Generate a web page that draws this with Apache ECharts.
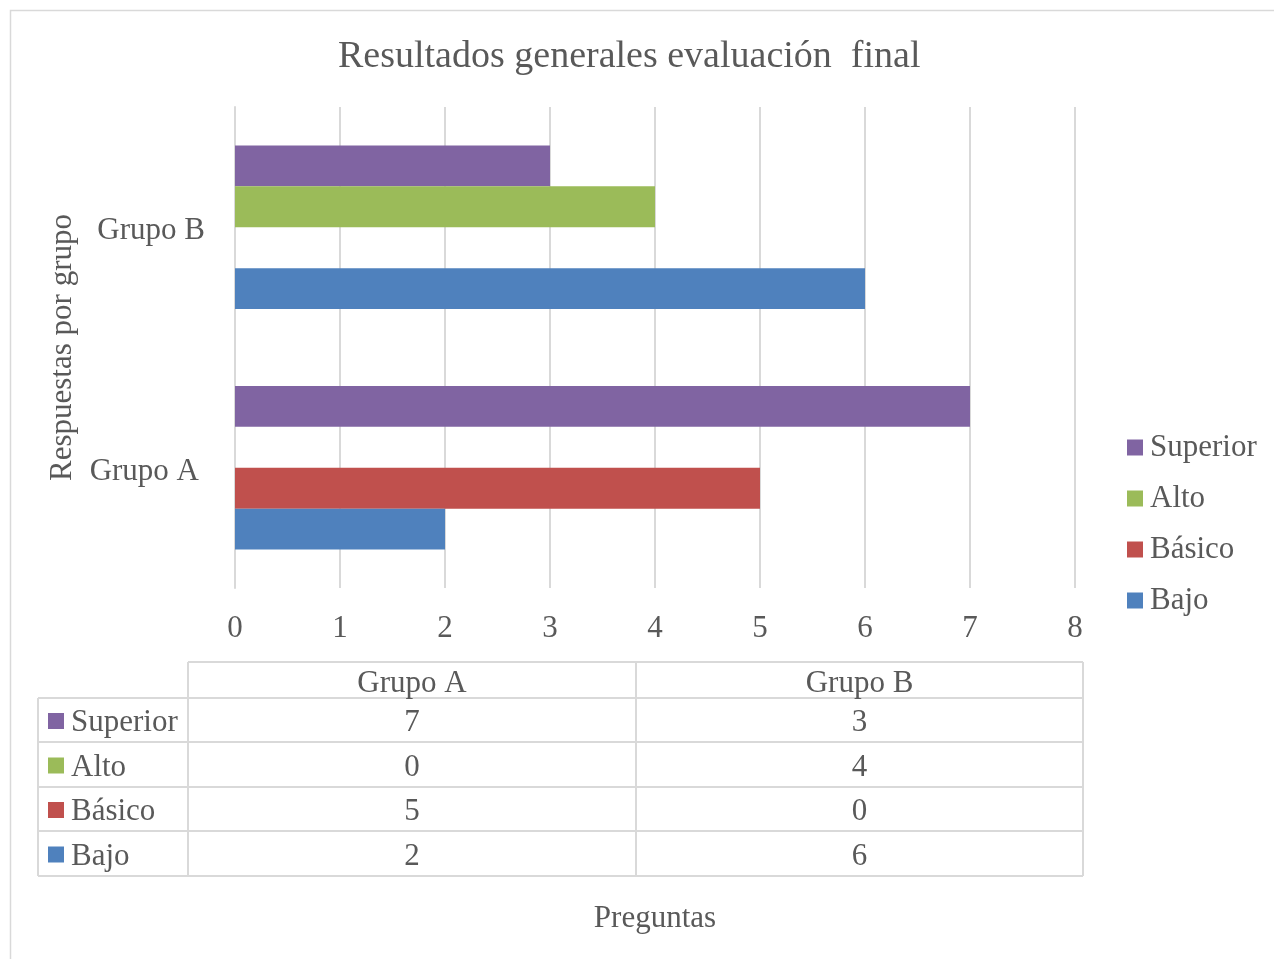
<!DOCTYPE html>
<html>
<head>
<meta charset="utf-8">
<script src="https://cdn.jsdelivr.net/npm/echarts@6/dist/echarts.min.js"></script>
<style>
  html, body { margin: 0; padding: 0; background: #fff; }
  #chart { width: 1274px; height: 959px; }
</style>
</head>
<body>
<div id="chart"></div>
<script>
// Groups on the category axis (bottom to top)
const groups = ['Grupo A', 'Grupo B'];
// Performance levels, listed top to bottom within each group
const levels = ['Superior', 'Alto', 'Básico', 'Bajo'];
// Values per level, one entry per group
const superior = [7, 3];
const alto = [0, 4];
const basico = [5, 0];
const bajo = [2, 6];
// Value axis ticks
const xTicks = [0, 1, 2, 3, 4, 5, 6, 7, 8];

const colors = {
  'Superior': '#8064A2',
  'Alto': '#9BBB59',
  'Básico': '#C0504D',
  'Bajo': '#4F81BD'
};
const valuesByLevel = { 'Superior': superior, 'Alto': alto, 'Básico': basico, 'Bajo': bajo };

const FONT = '"Liberation Serif", "Times New Roman", serif';
const TXT = '#595959';
const LINE = '#D9D9D9';

const chart = echarts.init(document.getElementById('chart'));

const series = levels.map(name => ({
  name,
  type: 'bar',
  data: valuesByLevel[name],
  itemStyle: { color: colors[name] },
  barGap: '0%',
  barCategoryGap: '32%',
  emphasis: { disabled: true }
}));

// Data table below the plot
function buildTable() {
  const els = [];
  const colX = [38, 188, 636, 1083];   // column edges
  const rowY = [662, 698, 742, 787, 831, 876]; // row edges
  const ls = { stroke: LINE, lineWidth: 2 };
  // header row (no leftmost cell)
  els.push({ type: 'line', shape: { x1: colX[1], y1: rowY[0], x2: colX[3], y2: rowY[0] }, style: ls, silent: true });
  for (let r = 1; r < rowY.length; r++) {
    els.push({ type: 'line', shape: { x1: colX[0], y1: rowY[r], x2: colX[3], y2: rowY[r] }, style: ls, silent: true });
  }
  els.push({ type: 'line', shape: { x1: colX[0], y1: rowY[1], x2: colX[0], y2: rowY[5] }, style: ls, silent: true });
  for (let c = 1; c < colX.length; c++) {
    els.push({ type: 'line', shape: { x1: colX[c], y1: rowY[0], x2: colX[c], y2: rowY[5] }, style: ls, silent: true });
  }
  groups.forEach((g, gi) => {
    els.push({
      type: 'text', silent: true,
      style: { text: g, x: (colX[gi + 1] + colX[gi + 2]) / 2, y: (rowY[0] + rowY[1]) / 2 + 4,
        align: 'center', verticalAlign: 'middle', font: '31px ' + FONT, fill: TXT }
    });
  });
  levels.forEach((lvl, ri) => {
    const cy = (rowY[ri + 1] + rowY[ri + 2]) / 2 + 3;
    els.push({ type: 'rect', silent: true, shape: { x: 48, y: cy - 10, width: 16, height: 16 }, style: { fill: colors[lvl] } });
    els.push({
      type: 'text', silent: true,
      style: { text: lvl, x: 71, y: cy, align: 'left', verticalAlign: 'middle', font: '31px ' + FONT, fill: TXT }
    });
    groups.forEach((g, gi) => {
      els.push({
        type: 'text', silent: true,
        style: { text: String(valuesByLevel[lvl][gi]), x: (colX[gi + 1] + colX[gi + 2]) / 2, y: cy,
          align: 'center', verticalAlign: 'middle', font: '31px ' + FONT, fill: TXT }
      });
    });
  });
  // chart area frame
  els.push({ type: 'rect', silent: true, shape: { x: 10.5, y: 10.5, width: 1300, height: 1000 },
    style: { fill: null, stroke: LINE, lineWidth: 1.5 } });
  return els;
}

const catLabel = { fontFamily: FONT, fontSize: 31, color: TXT, lineHeight: 39, verticalAlign: 'bottom' };

chart.setOption({
  animation: false,
  backgroundColor: '#fff',
  textStyle: { fontFamily: FONT, color: TXT },
  title: {
    text: 'Resultados generales evaluación  final',
    left: 333, top: 33,
    textStyle: { fontFamily: FONT, fontSize: 38, fontWeight: 'normal', color: TXT }
  },
  legend: {
    orient: 'vertical',
    left: 1122, top: 427,
    data: levels,
    itemWidth: 16, itemHeight: 16, itemGap: 20,
    icon: 'rect',
    textStyle: { fontFamily: FONT, fontSize: 31, color: TXT, padding: [0, 0, 0, 2] },
    selectedMode: false
  },
  grid: { left: 235, right: 199, top: 107, bottom: 371, containLabel: false },
  xAxis: {
    type: 'value',
    min: xTicks[0], max: xTicks[xTicks.length - 1], interval: 1,
    name: 'Preguntas', nameLocation: 'middle', nameGap: 315,
    nameTextStyle: { fontFamily: FONT, fontSize: 31, color: TXT },
    axisLine: { show: false },
    axisTick: { show: false },
    axisLabel: { fontFamily: FONT, fontSize: 31, color: TXT, margin: 25 },
    splitLine: { show: true, lineStyle: { color: LINE, width: 2 } }
  },
  yAxis: {
    type: 'category',
    data: groups,
    name: 'Respuestas por grupo', nameLocation: 'middle', nameGap: 155,
    nameTextStyle: { fontFamily: FONT, fontSize: 31, color: TXT },
    axisLine: { show: true, lineStyle: { color: LINE, width: 2 } },
    axisTick: { show: false },
    axisLabel: {
      fontFamily: FONT, fontSize: 31, color: TXT, margin: 30,
      formatter: v => (v === 'Grupo A' ? '{a|' + v + '}' : '{b|' + v + '}'),
      rich: {
        a: Object.assign({}, catLabel, { padding: [0, 6, 0, 0] }),
        b: Object.assign({}, catLabel)
      }
    }
  },
  series,
  graphic: { elements: buildTable() }
});
</script>
</body>
</html>
